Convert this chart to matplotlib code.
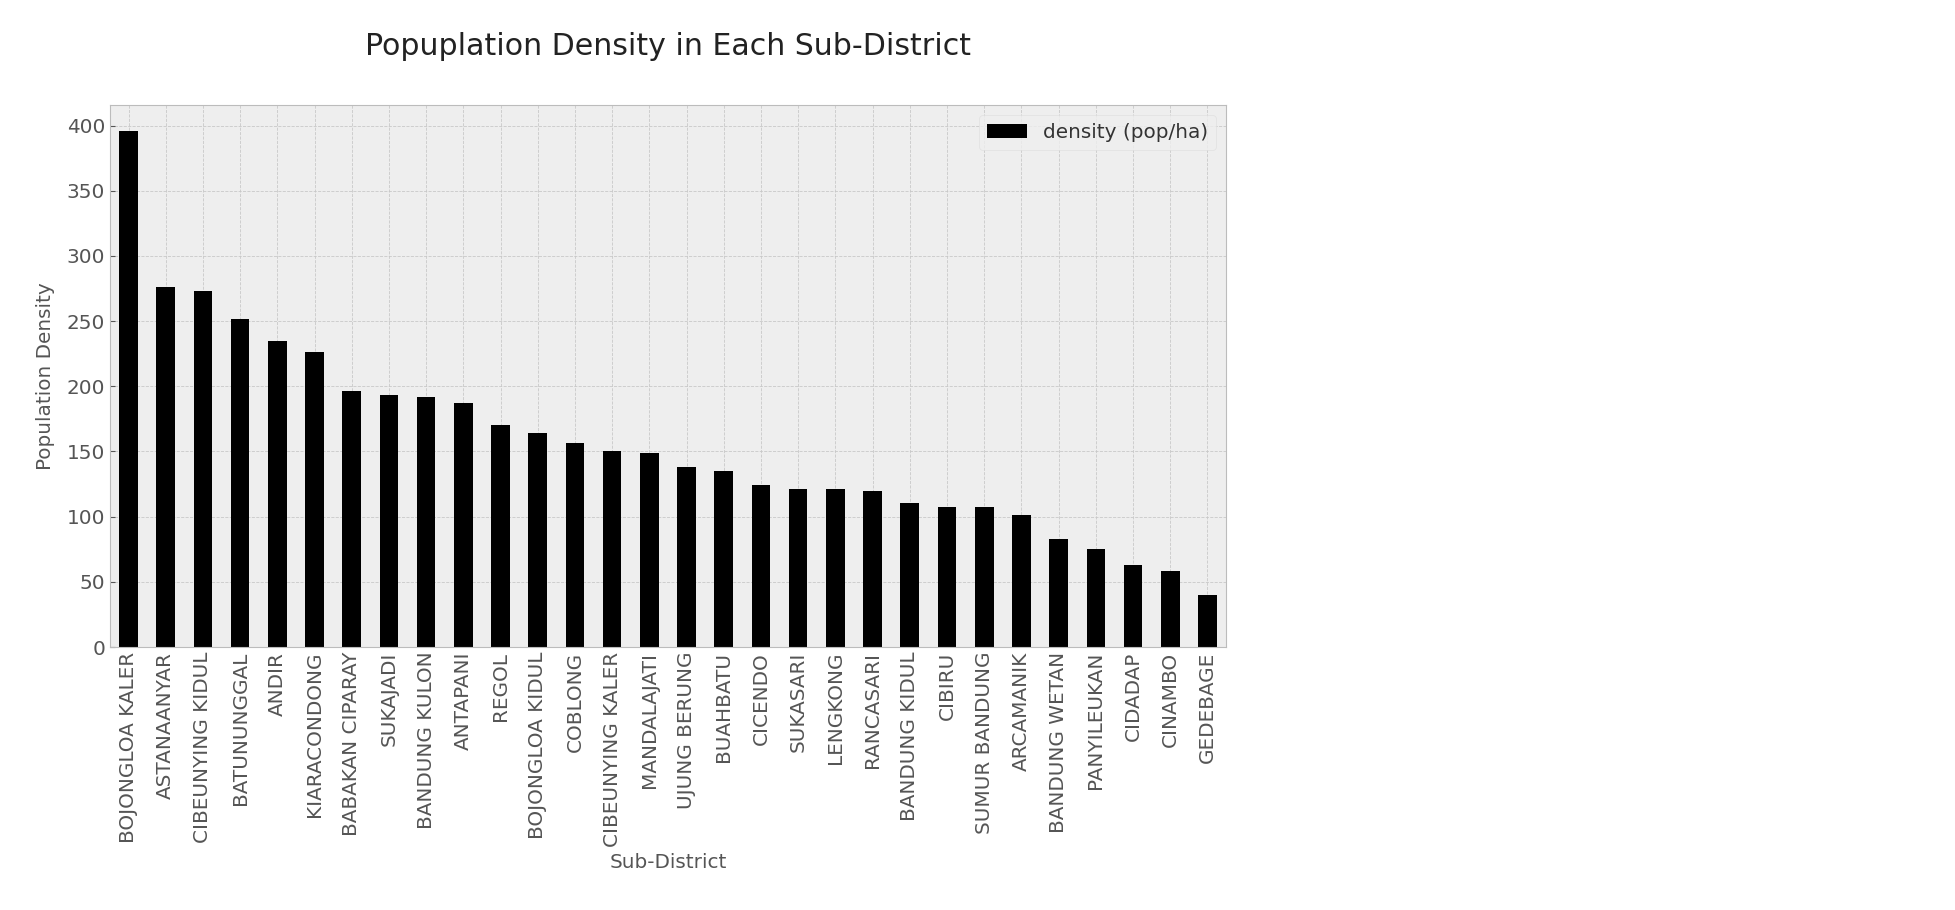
import numpy as np
import matplotlib
matplotlib.use('Agg')
import matplotlib.pyplot as plt
import pandas as pd

# Sub-districts sorted by density
sub_district = ['BOJONGLOA KALER', 'ASTANAANYAR', 'CIBEUNYING KIDUL', 'BATUNUNGGAL',
                'ANDIR', 'KIARACONDONG', 'BABAKAN CIPARAY', 'SUKAJADI',
                'BANDUNG KULON', 'ANTAPANI', 'REGOL', 'BOJONGLOA KIDUL', 'COBLONG',
                'CIBEUNYING KALER', 'MANDALAJATI', 'UJUNG BERUNG', 'BUAHBATU',
                'CICENDO', 'SUKASARI', 'LENGKONG', 'RANCASARI', 'BANDUNG KIDUL',
                'CIBIRU', 'SUMUR BANDUNG', 'ARCAMANIK', 'BANDUNG WETAN',
                'PANYILEUKAN', 'CIDADAP', 'CINAMBO', 'GEDEBAGE']
density = [396, 276, 273.5, 252, 235, 226, 196.5, 193.7, 191.7, 187.5,
           170.5, 164.4, 156.6, 150.4, 149, 138.2, 135.1, 124.5, 121.1, 121.1,
           119.7, 110.5, 107.5, 107.5, 101.3, 82.9, 75.1, 62.8, 58.3, 39.9]

plt.style.use('bmh')

df = pd.DataFrame({'density (pop/ha)': density}, index=sub_district)

fig = plt.figure(figsize=(19.56, 9.10), dpi=100)
ax = fig.add_axes([0.0562, 0.289, 0.5706, 0.5956])
ax.set_axisbelow(True)

df.plot(kind='bar', color='black', ax=ax)

ax.set_title('Popuplation Density in Each Sub-District', fontsize=21.6, color='#222222', pad=36)
ax.set_xlabel('Sub-District', fontsize=14.4, color='#555555')
ax.set_ylabel('Population Density', fontsize=14.4, color='#555555', labelpad=8)
ax.tick_params(axis='both', labelsize=14.4, colors='#555555')
ax.grid(True, color='#c8c8c8', linestyle='--', linewidth=0.6)
leg = ax.legend(loc='upper right', fontsize=14.4, facecolor='#eeeeee', edgecolor='#dddddd')
for t in leg.get_texts():
    t.set_color('#333333')

fig.savefig('out.png', dpi=100)
